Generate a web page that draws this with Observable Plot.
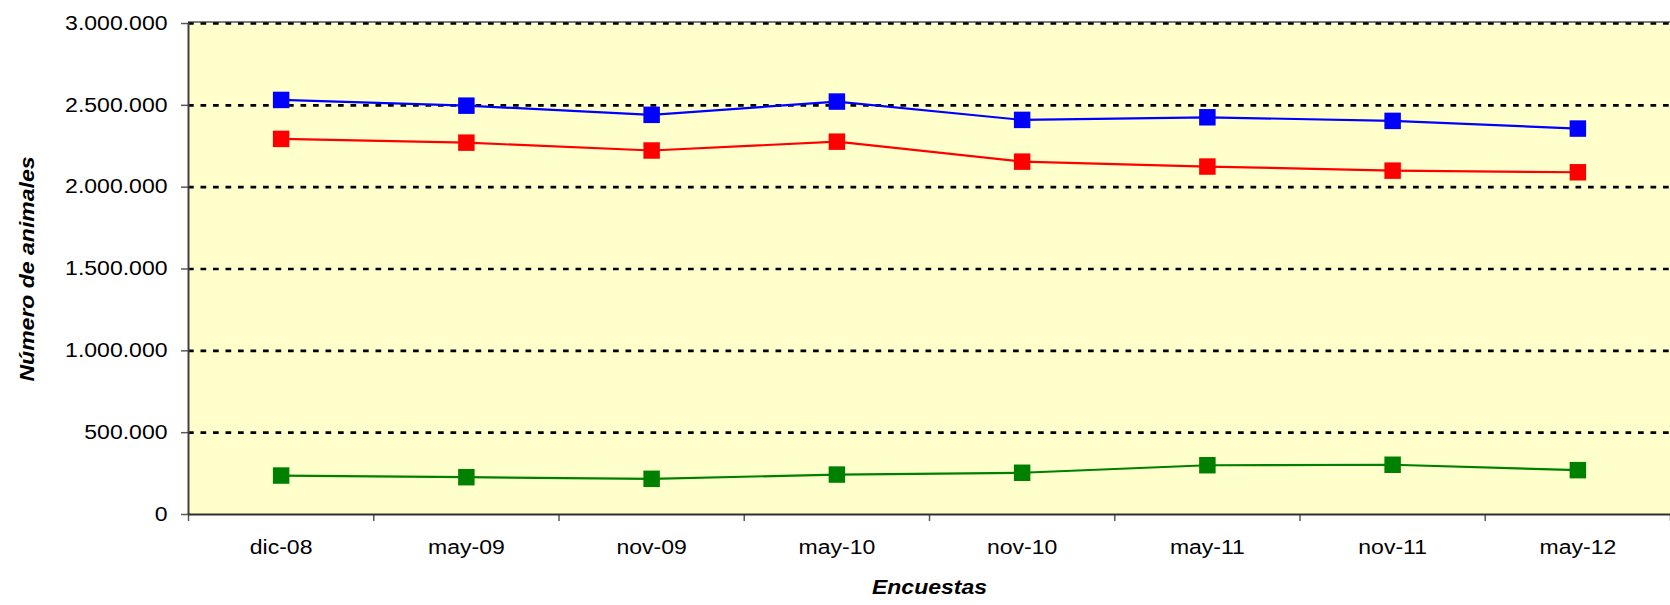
<!DOCTYPE html>
<html>
<head>
<meta charset="utf-8">
<script src="https://cdn.jsdelivr.net/npm/d3@7"></script>
<script src="https://cdn.jsdelivr.net/npm/@observablehq/plot@0.6"></script>
<style>
  html, body { margin: 0; padding: 0; background: #fff; }
  svg { display: block; }
</style>
</head>
<body>
<div id="chart"></div>
<script>
// ---- data ----
const surveys = ["dic-08", "may-09", "nov-09", "may-10", "nov-10", "may-11", "nov-11", "may-12"];
const seriesNames = ["Serie azul", "Serie roja", "Serie verde"];
const seriesColors = ["#0000FF", "#FF0000", "#008000"];
const blueValues  = [2533000, 2498000, 2442000, 2523000, 2411000, 2427000, 2405000, 2358000];
const redValues   = [2295000, 2272000, 2224000, 2278000, 2156000, 2126000, 2101000, 2091000];
const greenValues = [238000, 228000, 218000, 244000, 255000, 301000, 304000, 271000];
const yTicks = [0, 500000, 1000000, 1500000, 2000000, 2500000, 3000000];
const yTitle = "Número de animales";
const xTitle = "Encuestas";

// table for the library
const allValues = [blueValues, redValues, greenValues];
const rows = [];
seriesNames.forEach((s, k) => allValues[k].forEach((v, i) => rows.push({i, v, s})));
const idx = surveys.map((_, i) => i);
const boundaries = d3.range(surveys.length + 1).map(i => i - 0.5);

const es = d3.formatLocale({decimal: ",", thousands: ".", grouping: [3], currency: ["", " €"]});
const fmt = es.format(",d");

const FONT = "Arial, 'Liberation Sans', sans-serif";
const FS = 19.5;

const chart = Plot.plot({
  width: 1670,
  height: 605,
  marginLeft: 188,
  marginRight: 0,
  marginTop: 23,
  marginBottom: 91,
  style: {fontFamily: FONT, fontSize: FS + "px", color: "#000", background: "#fff"},
  x: {domain: [-0.5, surveys.length - 0.5], axis: null},
  y: {domain: [0, 3000000], axis: null},
  color: {domain: seriesNames, range: seriesColors},
  marks: [
    Plot.frame({fill: "#FFFFCC", stroke: "none"}),
    Plot.ruleY([yTicks[yTicks.length - 1]], {stroke: "#808080", strokeWidth: 2, dy: -1.5}),
    Plot.gridY(yTicks.filter(t => t > 0), {stroke: "#000", strokeOpacity: 1, strokeWidth: 2.6, strokeDasharray: "5.7,6.8"}),
    Plot.axisY({ticks: yTicks, tickFormat: fmt, tickSize: 7, tickPadding: 14, stroke: "#595959", strokeWidth: 1.5, fill: "#000", fontSize: FS, label: null}),
    Plot.axisX({ticks: boundaries, tickFormat: () => "", tickSize: 7, stroke: "#595959", strokeWidth: 1.5, label: null}),
    Plot.axisX({ticks: idx, tickFormat: i => surveys[i], tickSize: 0, tickPadding: 26, fill: "#000", fontSize: FS, label: null}),
    Plot.ruleX([-0.5], {stroke: "#404040", strokeWidth: 2}),
    Plot.ruleY([0], {stroke: "#303030", strokeWidth: 2}),
    Plot.line(rows, {x: "i", y: "v", z: "s", stroke: "s", strokeWidth: 2.2}),
    Plot.dot(rows, {x: "i", y: "v", fill: "s", symbol: "square", r: 9.3, stroke: "none"}),
    Plot.text([yTitle], {frameAnchor: "left", textAnchor: "middle", dx: -161, rotate: -90, fontWeight: "bold", fontStyle: "italic", fontSize: FS, fill: "#000"}),
    Plot.text([xTitle], {frameAnchor: "bottom", textAnchor: "middle", dy: 79, fontWeight: "bold", fontStyle: "italic", fontSize: FS, fill: "#000"})
  ]
});

document.getElementById("chart").appendChild(chart);

// the reference typeface renders wider than Arial: stretch each label along its baseline
d3.select(chart).selectAll("text").each(function() {
  const len = this.getComputedTextLength();
  if (len > 0) {
    this.setAttribute("textLength", (len * 1.18).toFixed(1));
    this.setAttribute("lengthAdjust", "spacingAndGlyphs");
  }
});
</script>
</body>
</html>
